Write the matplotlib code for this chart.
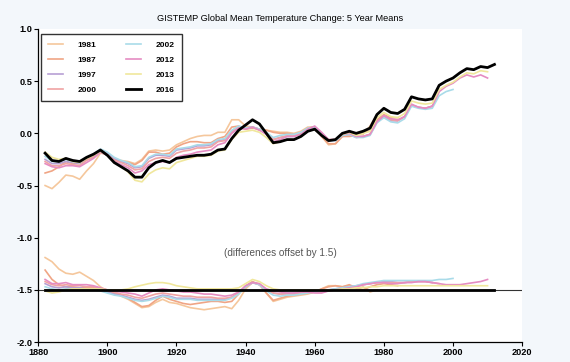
import numpy as np
import matplotlib
matplotlib.use("Agg")
import matplotlib.pyplot as plt

plt.rcParams["font.family"] = ["Liberation Sans", "DejaVu Sans"]

# 5 year means, GISTEMP 2016 version (2 year grid)
years = np.arange(1882, 2013, 2)
temp_2016 = [-0.19, -0.26, -0.27, -0.24, -0.26, -0.27, -0.23, -0.20, -0.16, -0.21,
             -0.28, -0.32, -0.36, -0.42, -0.42, -0.33, -0.28, -0.26, -0.28, -0.24,
             -0.23, -0.22, -0.21, -0.21, -0.20, -0.16, -0.15, -0.05, 0.03, 0.08,
             0.13, 0.09, 0.00, -0.09, -0.08, -0.06, -0.06, -0.03, 0.02, 0.04,
             -0.02, -0.07, -0.06, 0.00, 0.02, 0.00, 0.02, 0.05, 0.18, 0.24,
             0.20, 0.19, 0.23, 0.35, 0.33, 0.32, 0.33, 0.46, 0.50, 0.53,
             0.58, 0.62, 0.61, 0.64, 0.63, 0.66]

# differences (2016 minus older version), same grid, each ends at its own last year
diff_1981 = [0.31, 0.27, 0.20, 0.16, 0.15, 0.17, 0.13, 0.09, 0.03, -0.01,
             -0.03, -0.06, -0.09, -0.13, -0.17, -0.16, -0.12, -0.09, -0.12, -0.13,
             -0.15, -0.17, -0.18, -0.19, -0.18, -0.17, -0.16, -0.18, -0.10, 0.01,
             0.07, 0.06, -0.03, -0.11, -0.09, -0.07, -0.06, -0.05, -0.04, -0.02,
             0.01, 0.04, 0.04, 0.03, 0.04, 0.01, 0.03, -0.02, 0.00]
diff_1987 = [0.19, 0.10, 0.05, 0.03, 0.03, 0.02, 0.02, 0.02, 0.01, 0.00,
             -0.03, -0.05, -0.08, -0.12, -0.16, -0.15, -0.10, -0.06, -0.09, -0.11,
             -0.13, -0.14, -0.13, -0.12, -0.11, -0.11, -0.12, -0.11, -0.04, 0.04,
             0.08, 0.05, -0.03, -0.10, -0.08, -0.06, -0.05, -0.04, -0.03, -0.02,
             0.01, 0.03, 0.04, 0.03, 0.05, 0.02, 0.00, 0.03, 0.05, 0.06,
             0.05, 0.04]
diff_1997 = [0.06, 0.03, 0.02, 0.03, 0.02, 0.02, 0.01, 0.01, 0.00, -0.02,
             -0.04, -0.05, -0.07, -0.09, -0.10, -0.09, -0.07, -0.05, -0.06, -0.08,
             -0.08, -0.08, -0.09, -0.09, -0.09, -0.09, -0.09, -0.07, -0.03, 0.03,
             0.07, 0.05, 0.00, -0.03, -0.04, -0.03, -0.03, -0.03, -0.02, -0.02,
             -0.01, 0.00, 0.01, 0.02, 0.03, 0.04, 0.05, 0.06, 0.07, 0.08,
             0.08, 0.07, 0.07, 0.08, 0.08, 0.08, 0.07]
diff_2000 = [0.08, 0.05, 0.04, 0.05, 0.04, 0.04, 0.03, 0.03, 0.01, 0.00,
             -0.02, -0.04, -0.05, -0.07, -0.08, -0.06, -0.04, -0.03, -0.04, -0.05,
             -0.06, -0.06, -0.07, -0.07, -0.07, -0.08, -0.08, -0.07, -0.03, 0.03,
             0.07, 0.05, 0.00, -0.03, -0.04, -0.04, -0.04, -0.03, -0.03, -0.02,
             -0.02, -0.01, 0.00, 0.01, 0.02, 0.03, 0.05, 0.06, 0.07, 0.07,
             0.07, 0.07, 0.07, 0.08, 0.08, 0.08, 0.07, 0.06]
diff_2002 = [0.03, 0.01, 0.00, 0.01, 0.01, 0.01, 0.00, 0.00, -0.01, -0.03,
             -0.05, -0.06, -0.08, -0.10, -0.11, -0.10, -0.08, -0.06, -0.07, -0.09,
             -0.09, -0.09, -0.10, -0.10, -0.10, -0.10, -0.10, -0.08, -0.04, 0.03,
             0.07, 0.05, -0.01, -0.05, -0.06, -0.05, -0.05, -0.04, -0.03, -0.02,
             -0.01, 0.00, 0.01, 0.02, 0.03, 0.04, 0.06, 0.07, 0.08, 0.09,
             0.09, 0.09, 0.09, 0.09, 0.09, 0.09, 0.09, 0.10, 0.10, 0.11]
diff_2012 = [0.10, 0.06, 0.06, 0.07, 0.05, 0.05, 0.05, 0.04, 0.02, 0.00,
             -0.01, -0.02, -0.03, -0.04, -0.06, -0.03, 0.00, 0.01, 0.00, -0.01,
             -0.02, -0.02, -0.03, -0.04, -0.04, -0.05, -0.06, -0.05, -0.02, 0.04,
             0.07, 0.06, 0.01, -0.01, -0.02, -0.03, -0.03, -0.02, -0.02, -0.03,
             -0.03, -0.01, 0.00, 0.01, 0.02, 0.03, 0.05, 0.06, 0.07, 0.07,
             0.06, 0.06, 0.07, 0.07, 0.08, 0.08, 0.07, 0.06, 0.05, 0.05,
             0.05, 0.06, 0.07, 0.08, 0.10]
diff_2013 = [-0.01, -0.03, -0.02, 0.00, 0.01, 0.01, 0.01, 0.01, 0.01, 0.00,
             0.00, 0.00, 0.01, 0.03, 0.045, 0.06, 0.07, 0.07, 0.06, 0.04,
             0.03, 0.02, 0.01, 0.01, 0.01, 0.01, 0.01, 0.01, 0.02, 0.06,
             0.10, 0.08, 0.04, 0.01, 0.00, 0.00, 0.00, 0.00, 0.00, 0.00,
             0.00, 0.00, 0.00, 0.01, 0.01, 0.02, 0.02, 0.03, 0.03, 0.04,
             0.04, 0.04, 0.04, 0.04, 0.04, 0.04, 0.04, 0.04, 0.04, 0.04,
             0.04, 0.04, 0.04, 0.04, 0.04]

labels = ["1981", "1987", "1997", "2000", "2002", "2012", "2013", "2016"]
diffs = [diff_1981, diff_1987, diff_1997, diff_2000, diff_2002, diff_2012, diff_2013,
         list(np.zeros(len(temp_2016)))]
colors = ["#f5c79c", "#f0a585", "#b7a0d4", "#f0a3a3", "#a9dbe9", "#e58cc2", "#f0e79c", "black"]

offset = -1.5

fig = plt.figure(figsize=(5.7, 3.62), dpi=100, facecolor="#f3f7fb")
ax = fig.add_axes([0.067, 0.055, 0.849, 0.865])
ax.set_facecolor("white")

base = np.array(temp_2016)
for lab, d, c in zip(labels, diffs, colors):
    d = np.array(d)
    yr = years[:len(d)]
    lw = 2.0 if lab == "2016" else 1.2
    ax.plot(yr, base[:len(d)] - d, color=c, lw=lw, label=lab)
    ax.plot(yr, offset + d, color=c, lw=lw)

ax.axhline(offset, color="#333333", lw=0.8, zorder=0)
ax.text(1950, -1.15, "(differences offset by 1.5)", ha="center", va="center",
        fontsize=7.2, color="#555555")

ax.set_xlim(1880, 2020)
ax.set_ylim(-2.0, 1.0)
ax.set_xticks(np.arange(1880, 2021, 20))
ax.set_yticks(np.arange(-2.0, 1.01, 0.5))
ax.set_yticklabels(["%.1f" % v for v in np.arange(-2.0, 1.01, 0.5)])
ax.tick_params(labelsize=6.6, length=3, width=0.8, pad=1)
for t in ax.get_xticklabels() + ax.get_yticklabels():
    t.set_fontweight("bold")
for s in ["top", "right"]:
    ax.spines[s].set_visible(False)
for s in ["left", "bottom"]:
    ax.spines[s].set_linewidth(0.9)

ax.set_title("GISTEMP Global Mean Temperature Change: 5 Year Means", fontsize=6.6, pad=6)

leg = ax.legend(loc="upper left", ncol=2, frameon=True, fancybox=False,
                prop={"size": 6, "weight": "bold"},
                handlelength=1.8, handletextpad=1.7, columnspacing=3.6, labelspacing=0.85,
                borderpad=0.85, bbox_to_anchor=(0.006, 0.984), borderaxespad=0)
leg.get_frame().set_edgecolor("black")
leg.get_frame().set_linewidth(1.0)

fig.savefig("out.png", dpi=100, facecolor=fig.get_facecolor())
